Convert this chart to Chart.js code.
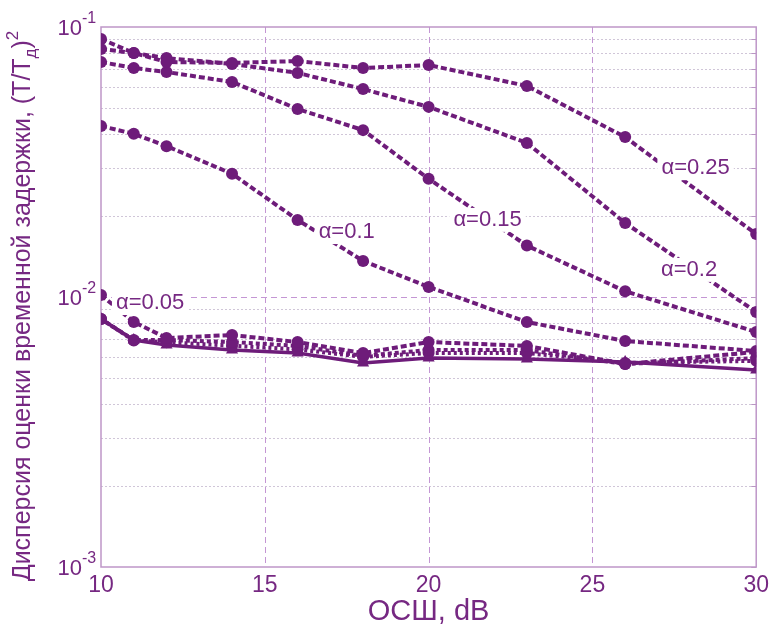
<!DOCTYPE html>
<html>
<head>
<meta charset="utf-8">
<script src="https://cdn.jsdelivr.net/npm/chart.js@4"></script>
<style>
  body { margin: 0; background: #fff; }
  #chart { display: block; }
</style>
</head>
<body>
<canvas id="chart" width="774" height="630"></canvas>
<script>
// OSNR points (dB)
const snr = [10, 11, 12, 14, 16, 18, 20, 23, 26, 30]

// variance curves
const a025 = [0.0829, 0.0801, 0.0742, 0.0736, 0.0748, 0.0705, 0.0723, 0.0605, 0.0391, 0.0171]
const a020 = [0.0903, 0.0801, 0.0767, 0.0730, 0.0676, 0.0589, 0.0506, 0.0372, 0.0188, 0.0088]
const a015 = [0.0742, 0.0705, 0.0681, 0.0626, 0.0497, 0.0415, 0.0274, 0.0155, 0.0105, 0.00742]
const a010 = [0.0430, 0.0402, 0.0362, 0.0286, 0.0193, 0.0136, 0.0109, 0.00808, 0.00687, 0.00631]
const a005 = [0.01017, 0.00808, 0.00705, 0.00723, 0.00681, 0.0062, 0.00681, 0.00659, 0.00565, 0.00626]
const a003 = [0.00829, 0.00693, 0.00693, 0.00681, 0.00659, 0.00605, 0.00636, 0.00636, 0.00565, 0.00594]
const a001 = [0.00829, 0.0069, 0.0068, 0.0066, 0.0064, 0.0060, 0.0062, 0.0062, 0.0057, 0.0058]
const a000 = [0.00829, 0.00693, 0.00664, 0.00636, 0.0062, 0.0057, 0.00594, 0.00589, 0.00574, 0.00537]

const xTicks = [10, 15, 20, 25, 30]
const yDecades = [0.1, 0.01, 0.001]
const yExp = ['-1', '-2', '-3']

const labels = [
  { text: 'α=0.25', x: 28.15, y: 0.0300 },
  { text: 'α=0.15', x: 21.8, y: 0.0193 },
  { text: 'α=0.1', x: 17.5, y: 0.0174 },
  { text: 'α=0.2', x: 27.95, y: 0.0126 },
  { text: 'α=0.05', x: 11.5, y: 0.0095 }
]

const purple = 'rgb(110,28,122)'
const textPurple = 'rgb(118,40,130)'
const font = '"Liberation Sans", Arial, sans-serif'

const pts = arr => arr.map((v, i) => ({ x: snr[i], y: v }))

const makeSet = (arr, opts) => Object.assign({
  data: pts(arr),
  borderColor: purple,
  backgroundColor: purple,
  borderWidth: 4,
  borderDash: [6, 3],
  pointStyle: 'circle',
  pointRadius: 6,
  pointBorderWidth: 0,
  tension: 0
}, opts)

const decor = {
  id: 'decor',
  beforeDatasetsDraw(chart) {
    const { ctx, chartArea: a, scales: { x, y } } = chart
    ctx.save()
    // minor horizontal lines
    ctx.lineWidth = 1
    ctx.strokeStyle = 'rgb(208,198,216)'
    ctx.setLineDash([2, 2])
    for (let n = -3; n <= -2; n++) {
      for (let k = 2; k <= 9; k++) {
        const py = Math.round(y.getPixelForValue(k * Math.pow(10, n))) + 0.5
        ctx.beginPath(); ctx.moveTo(a.left, py); ctx.lineTo(a.right, py); ctx.stroke()
      }
    }
    // major lines
    ctx.strokeStyle = 'rgb(196,150,212)'
    ctx.setLineDash([6, 4])
    const py = Math.round(y.getPixelForValue(0.01)) + 0.5
    ctx.beginPath(); ctx.moveTo(a.left, py); ctx.lineTo(a.right, py); ctx.stroke()
    ;[15, 20, 25].forEach(v => {
      const px = Math.round(x.getPixelForValue(v)) + 0.5
      ctx.beginPath(); ctx.moveTo(px, a.top); ctx.lineTo(px, a.bottom); ctx.stroke()
    })
    ctx.setLineDash([])
    // small ticks on right edge
    ctx.strokeStyle = 'rgb(185,150,195)'
    for (let n = -3; n <= -2; n++) {
      for (let k = 1; k <= 9; k++) {
        const ty = Math.round(y.getPixelForValue(k * Math.pow(10, n))) + 0.5
        ctx.beginPath(); ctx.moveTo(a.right - 5, ty); ctx.lineTo(a.right, ty); ctx.stroke()
      }
    }
    // frame
    ctx.strokeStyle = 'rgb(190,150,200)'
    ctx.lineWidth = 1.5
    ctx.strokeRect(a.left, a.top, a.right - a.left, a.bottom - a.top)
    ctx.restore()
  },
  afterDraw(chart) {
    const { ctx, chartArea: a, scales: { x, y } } = chart
    ctx.save()
    ctx.fillStyle = textPurple
    // y decade labels with superscripts
    yDecades.forEach((v, i) => {
      const py = y.getPixelForValue(v)
      ctx.font = '22px ' + font
      ctx.textAlign = 'right'
      ctx.textBaseline = 'middle'
      ctx.fillText('10', a.left - 19, py + 2)
      ctx.font = '16px ' + font
      ctx.textAlign = 'left'
      ctx.fillText(yExp[i], a.left - 19, py - 8)
    })
    // curve labels on white
    ctx.font = '22px ' + font
    ctx.textAlign = 'center'
    ctx.textBaseline = 'middle'
    labels.forEach(l => {
      const px = x.getPixelForValue(l.x)
      const py = y.getPixelForValue(l.y)
      const w = ctx.measureText(l.text).width
      ctx.fillStyle = '#fff'
      ctx.fillRect(px - w / 2 - 4, py - 12, w + 8, 24)
      ctx.fillStyle = textPurple
      ctx.fillText(l.text, px, py)
    })
    // y axis title
    ctx.translate(23, 306)
    ctx.rotate(-Math.PI / 2)
    const main = 'Дисперсия оценки временной задержки, (T/T'
    const big = '25px ' + font
    const small = '17px ' + font
    ctx.font = big
    const w1 = ctx.measureText(main).width
    ctx.font = small
    const wSub = ctx.measureText('д').width
    ctx.font = big
    const wPar = ctx.measureText(')').width
    ctx.font = small
    const wSup = ctx.measureText('2').width
    let cx = -(w1 + wSub + wPar + wSup) / 2
    ctx.textAlign = 'left'
    ctx.textBaseline = 'middle'
    ctx.font = big
    ctx.fillText(main, cx, 0); cx += w1
    ctx.font = small
    ctx.fillText('д', cx, 8); cx += wSub
    ctx.font = big
    ctx.fillText(')', cx, 0); cx += wPar
    ctx.font = small
    ctx.fillText('2', cx, -10)
    ctx.restore()
  }
}

new Chart(document.getElementById('chart'), {
  type: 'line',
  data: {
    datasets: [
      makeSet(a025),
      makeSet(a020),
      makeSet(a015),
      makeSet(a010),
      makeSet(a005),
      makeSet(a003, { borderDash: [4, 3] }),
      makeSet(a001, { borderDash: [3, 3] }),
      makeSet(a000, { borderDash: [], pointStyle: 'triangle', pointRadius: 7, borderWidth: 3.5 })
    ]
  },
  options: {
    responsive: false,
    animation: false,
    layout: { padding: { top: 27, right: 13, left: 0, bottom: 0 } },
    plugins: { legend: { display: false }, tooltip: { enabled: false } },
    scales: {
      x: {
        type: 'linear',
        min: 10,
        max: 30,
        afterBuildTicks: s => { s.ticks = xTicks.map(v => ({ value: v })) },
        afterFit: s => { s.height = 63 },
        grid: { display: false, drawTicks: false },
        border: { display: false },
        ticks: { color: textPurple, font: { family: font, size: 23 }, padding: 5, maxRotation: 0 },
        title: { display: true, text: 'ОСШ, dB', color: textPurple, font: { family: font, size: 29 }, padding: { top: 0, bottom: 1 } }
      },
      y: {
        type: 'logarithmic',
        min: 0.001,
        max: 0.1,
        afterFit: s => { s.width = 101 },
        grid: { display: false, drawTicks: false },
        border: { display: false },
        ticks: { display: false }
      }
    }
  },
  plugins: [decor]
})
</script>
</body>
</html>
